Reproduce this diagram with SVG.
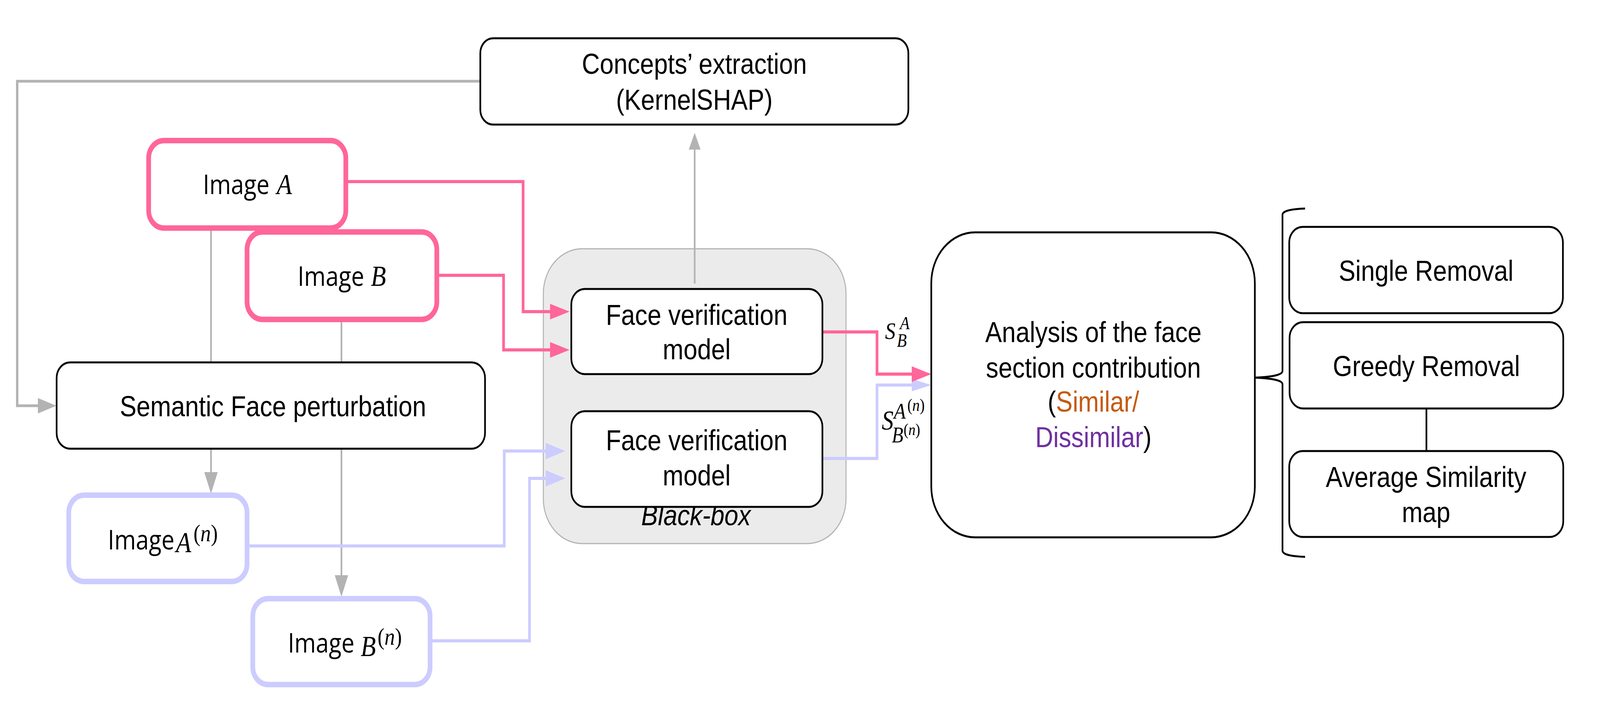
<svg xmlns="http://www.w3.org/2000/svg" width="4747" height="1813" viewBox="0 0 4747 1813">
<style>
.box{fill:#fff;stroke:#000;stroke-width:5}
.pbox{fill:#fff;stroke:#ff6699;stroke-width:14}
.lbox{fill:#fff;stroke:#ccccff;stroke-width:14}
.t{font-family:"Liberation Sans",Arial,sans-serif;font-size:74px;text-anchor:middle;fill:#000}
.img{font-family:"Open Sans","DejaVu Sans",sans-serif;font-size:69px;fill:#000}
.m{font-family:"Liberation Serif","Times New Roman",serif;font-style:italic;fill:#000}
.u{font-style:normal}
.gray{fill:none;stroke:#b3b3b3;stroke-width:5}
.pink{fill:none;stroke:#ff6699;stroke-width:8}
.lav{fill:none;stroke:#ccccff;stroke-width:8}
</style>
<defs>
<marker id="mp" markerUnits="userSpaceOnUse" viewBox="0 0 58 40" markerWidth="58" markerHeight="40" refX="2" refY="20" orient="auto"><path d="M0,0 L58,20 L0,40 z" fill="#ff6699"/></marker>
<marker id="ml" markerUnits="userSpaceOnUse" viewBox="0 0 58 42" markerWidth="58" markerHeight="42" refX="2" refY="21" orient="auto"><path d="M0,0 L58,21 L0,42 z" fill="#ccccff"/></marker>
<marker id="ml2" markerUnits="userSpaceOnUse" viewBox="0 0 58 32" markerWidth="58" markerHeight="32" refX="2" refY="16" orient="auto"><path d="M0,0 L58,16 L0,32 z" fill="#ccccff"/></marker>
<marker id="mg" markerUnits="userSpaceOnUse" viewBox="0 0 55 40" markerWidth="55" markerHeight="40" refX="2" refY="20" orient="auto"><path d="M0,0 L55,20 L0,40 z" fill="#b3b3b3"/></marker>
<marker id="mgs" markerUnits="userSpaceOnUse" viewBox="0 0 43 35" markerWidth="43" markerHeight="35" refX="2" refY="17.5" orient="auto"><path d="M0,0 L43,17.5 L0,35 z" fill="#b3b3b3"/></marker>
</defs>
<rect width="4747" height="1813" fill="#fff"/>
<g id="diagram" transform="scale(0.86286,1)">

<g id="blackbox">
<rect x="1612" y="637" width="898" height="755" rx="115" fill="#ebebeb" stroke="#b3b3b3" stroke-width="3"/>
<text class="t" x="2065" y="1345" font-size="65" font-style="italic">Black-box</text>
</g>

<g id="connectors">
<path class="gray" style="stroke-width:7" d="M1425,208 H51 V1039 H114" marker-end="url(#mg)"/>
<path class="gray" d="M626,584 V928"/>
<path class="gray" d="M626,1149 V1211" marker-end="url(#mg)"/>
<path class="gray" d="M1013,818 V928"/>
<path class="gray" d="M1013,1149 V1475" marker-end="url(#mg)"/>
<path class="gray" d="M2061,726 V381" marker-end="url(#mgs)"/>
<path class="pink" d="M1026,465 H1552 V798 H1634" marker-end="url(#mp)"/>
<path class="pink" d="M1296,705 H1494 V896 H1634" marker-end="url(#mp)"/>
<path class="lav" d="M733,1398 H1496 V1155 H1621" marker-end="url(#ml)"/>
<path class="lav" d="M1276,1641 H1571 V1225 H1621" marker-end="url(#ml)"/>
<path class="lav" d="M2440,1174 H2602 V986 H2707" marker-end="url(#ml2)"/>
<path class="pink" d="M2440,850 H2602 V958 H2707" marker-end="url(#mp)"/>
<path fill="none" stroke="#000" stroke-width="5" d="M4232,1046 V1155"/>
</g>

<g id="concepts">
<rect class="box" x="1425" y="98" width="1270" height="221" rx="38"/>
<text class="t" x="2060" y="189">Concepts’ extraction</text>
<text class="t" x="2060" y="281">(KernelSHAP)</text>
</g>

<g id="imageA">
<rect class="pbox" x="441" y="360" width="585" height="224" rx="45"/>
<text class="img" x="602" y="497">Image<tspan class="m" x="821" font-size="74">A</tspan></text>
</g>

<g id="imageB">
<rect class="pbox" x="733" y="594" width="563" height="224" rx="45"/>
<text class="img" x="883" y="732">Image<tspan class="m" x="1100" font-size="74">B</tspan></text>
</g>

<g id="semantic">
<rect class="box" x="168" y="928" width="1271" height="221" rx="40"/>
<text class="t" x="810" y="1066">Semantic Face perturbation</text>
</g>

<g id="imageAn">
<rect class="lbox" x="204" y="1268" width="529" height="221" rx="45"/>
<text class="img" x="320" y="1407">Image<tspan class="m" x="522" y="1414" font-size="74">A</tspan><tspan class="m u" x="574" y="1386" font-size="62">(</tspan><tspan class="m" font-size="62">n</tspan><tspan class="m u" font-size="62">)</tspan></text>
</g>

<g id="imageBn">
<rect class="lbox" x="750" y="1533" width="526" height="220" rx="45"/>
<text class="img" x="854" y="1671">Image<tspan class="m" x="1070" y="1680" font-size="74">B</tspan><tspan class="m u" x="1120" y="1651" font-size="62">(</tspan><tspan class="m" font-size="62">n</tspan><tspan class="m u" font-size="62">)</tspan></text>
</g>

<g id="fv1">
<rect class="box" x="1695" y="740" width="745" height="218" rx="40"/>
<text class="t" x="2067" y="832">Face verification</text>
<text class="t" x="2067" y="920">model</text>
</g>

<g id="fv2">
<rect class="box" x="1695" y="1053" width="745" height="245" rx="40"/>
<text class="t" x="2067" y="1153">Face verification</text>
<text class="t" x="2067" y="1243">model</text>
</g>

<g id="labelS1">
<text class="m" x="2626" y="868" font-size="62">S</text>
<text class="m" x="2670" y="843" font-size="47">A</text>
<text class="m" x="2661" y="888" font-size="48">B</text>
</g>

<g id="labelS2">
<text class="m" x="2616" y="1100" font-size="70">S</text>
<text class="m" x="2652" y="1072" font-size="58">A<tspan class="u" x="2692" y="1052" font-size="44">(</tspan><tspan font-size="44">n</tspan><tspan class="u" font-size="44">)</tspan></text>
<text class="m" x="2646" y="1133" font-size="56">B<tspan class="u" x="2681" y="1114" font-size="42">(</tspan><tspan font-size="42">n</tspan><tspan class="u" font-size="42">)</tspan></text>
</g>

<g id="analysis">
<rect class="box" x="2763" y="595" width="960" height="781" rx="130"/>
<text class="t" x="3244" y="876">Analysis of the face</text>
<text class="t" x="3244" y="967">section contribution</text>
<text class="t" x="3244" y="1054">(<tspan fill="#c55a11">Similar/</tspan></text>
<text class="t" x="3244" y="1145"><tspan fill="#7030a0">Dissimilar</tspan>)</text>
</g>

<g id="brace">
<path fill="none" stroke="#000" stroke-width="5" d="M3872,534 Q3805,536 3805,550 L3805,950 Q3805,964 3725,967 Q3805,970 3805,984 L3805,1410 Q3805,1424 3872,1426"/>
</g>

<g id="single">
<rect class="box" x="3825" y="581" width="812" height="221" rx="40"/>
<text class="t" x="4231" y="719">Single Removal</text>
</g>

<g id="greedy">
<rect class="box" x="3826" y="825" width="812" height="221" rx="40"/>
<text class="t" x="4232" y="963">Greedy Removal</text>
</g>

<g id="average">
<rect class="box" x="3825" y="1155" width="813" height="220" rx="40"/>
<text class="t" x="4231" y="1247">Average Similarity</text>
<text class="t" x="4231" y="1337">map</text>
</g>
</g>
</svg>
